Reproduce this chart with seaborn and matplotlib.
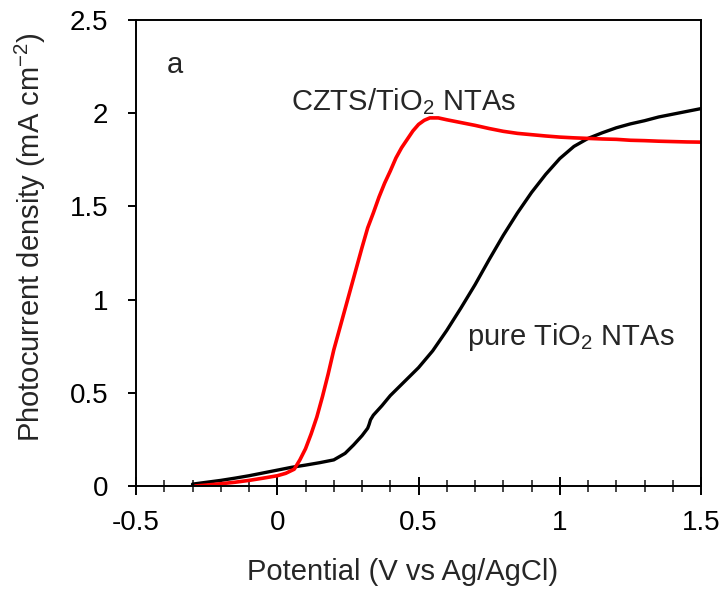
import numpy as np
import pandas as pd
import matplotlib
matplotlib.use("Agg")
import matplotlib.pyplot as plt
import seaborn as sns
from matplotlib.ticker import MultipleLocator

# Potential (V vs Ag/AgCl) and photocurrent density (mA cm-2)
czts_v = [-0.29, -0.25, -0.2, -0.15, -0.1, -0.05, 0.0, 0.03, 0.06, 0.08, 0.10, 0.12, 0.14,
          0.16, 0.18, 0.20, 0.22, 0.24, 0.26, 0.28, 0.30, 0.32, 0.34, 0.36, 0.38, 0.40,
          0.42, 0.44, 0.46, 0.48, 0.50, 0.52, 0.54, 0.57, 0.60, 0.65, 0.70, 0.75, 0.80,
          0.85, 0.90, 0.95, 1.00, 1.05, 1.10, 1.15, 1.20, 1.25, 1.30, 1.35, 1.40, 1.45, 1.50]
czts_j = [0.00, 0.005, 0.012, 0.02, 0.03, 0.042, 0.055, 0.068, 0.09, 0.14, 0.20, 0.28, 0.37,
          0.48, 0.60, 0.73, 0.84, 0.95, 1.06, 1.17, 1.28, 1.385, 1.465, 1.55, 1.625, 1.69,
          1.76, 1.815, 1.86, 1.905, 1.94, 1.962, 1.975, 1.975, 1.965, 1.95, 1.935, 1.918, 1.903,
          1.892, 1.885, 1.878, 1.872, 1.868, 1.865, 1.862, 1.86, 1.855, 1.853, 1.85, 1.848, 1.846, 1.845]

tio2_v = [-0.30, -0.25, -0.2, -0.15, -0.1, -0.05, 0.0, 0.05, 0.10, 0.15, 0.20, 0.24, 0.27,
          0.30, 0.32, 0.325, 0.33, 0.34, 0.37, 0.40, 0.45, 0.50, 0.55, 0.60, 0.65,
          0.70, 0.75, 0.80, 0.85, 0.90, 0.95, 1.00, 1.05, 1.10, 1.15, 1.20, 1.25, 1.30,
          1.35, 1.40, 1.45, 1.50]
tio2_j = [0.01, 0.02, 0.03, 0.042, 0.055, 0.07, 0.085, 0.10, 0.112, 0.125, 0.14, 0.175, 0.22,
          0.27, 0.31, 0.33, 0.355, 0.38, 0.43, 0.485, 0.56, 0.635, 0.725, 0.835, 0.955,
          1.08, 1.215, 1.345, 1.465, 1.575, 1.672, 1.757, 1.822, 1.865, 1.895, 1.922, 1.943, 1.96,
          1.98, 1.995, 2.01, 2.025]

labels = ["CZTS/TiO$_2$ NTAs", "pure TiO$_2$ NTAs"]

df = pd.concat([
    pd.DataFrame({"V": czts_v, "J": czts_j, "sample": "CZTS"}),
    pd.DataFrame({"V": tio2_v, "J": tio2_j, "sample": "TiO2"}),
])

sns.set_style("ticks")
plt.rcParams['font.family'] = ['Liberation Sans', 'DejaVu Sans']
plt.rcParams['mathtext.fontset'] = 'custom'
plt.rcParams['mathtext.rm'] = 'Liberation Sans'
plt.rcParams['mathtext.it'] = 'Liberation Sans'

fig = plt.figure(figsize=(7.25, 5.9), dpi=100)
ax = fig.add_axes([0.1876, 0.1763, 0.967 - 0.1876, 0.966 - 0.1763])

sns.lineplot(data=df[df["sample"] == "TiO2"], x="V", y="J", color="black", linewidth=2.4,
             ax=ax, sort=False, estimator=None)
sns.lineplot(data=df[df["sample"] == "CZTS"], x="V", y="J", color="#ff0000", linewidth=2.6,
             ax=ax, sort=False, estimator=None)

ax.set_xlim(-0.5, 1.5)
ax.set_ylim(0, 2.5)
ax.xaxis.set_minor_locator(MultipleLocator(0.1))
ax.set_xticks([-0.5, 0, 0.5, 1, 1.5])
ax.set_xticklabels(["-0.5", "0", "0.5", "1", "1.5"])
ax.set_yticks([0, 0.5, 1, 1.5, 2, 2.5])
ax.set_yticklabels(["0", "0.5", "1", "1.5", "2", "2.5"])

for s in ax.spines.values():
    s.set_linewidth(1.4)
    s.set_color("black")

FS = 20
FL = 21
ax.tick_params(axis='x', which='major', direction='inout', length=13, width=1.4,
               labelsize=FS, pad=11, colors='black')
ax.tick_params(axis='x', which='minor', direction='inout', length=8.5, width=1.2)
ax.tick_params(axis='y', which='major', direction='out', length=6, width=1.4,
               labelsize=FS, pad=14, colors='black')

ax.set_xlabel("Potential (V vs Ag/AgCl)", fontsize=FL)
ax.set_ylabel("Photocurrent density (mA cm$^{-2}$)", fontsize=FL)
ax.xaxis.set_label_coords(0.471, -0.155)
ax.yaxis.set_label_coords(-0.155, 0.535)

ax.text(-0.39, 2.26, "a", fontsize=FL, va="center", ha="left")
ax.text(0.05, 2.06, labels[0], fontsize=FL, va="center", ha="left")
ax.text(0.67, 0.80, labels[1], fontsize=FL, va="center", ha="left")

fig.savefig("out.png", dpi=100)
